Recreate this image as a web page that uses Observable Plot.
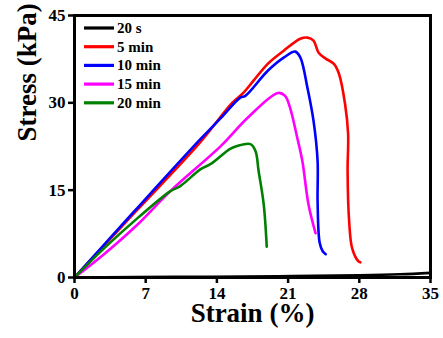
<!DOCTYPE html>
<html>
<head>
<meta charset="utf-8">
<script src="https://cdn.jsdelivr.net/npm/d3@7"></script>
<script src="https://cdn.jsdelivr.net/npm/@observablehq/plot@0.6"></script>
<style>
  html, body { margin: 0; padding: 0; background: #fff; }
</style>
</head>
<body>
<div id="chart"></div>
<script>
// ---- data (strain %, stress kPa) ----
const seriesNames = ["20 s", "5 min", "10 min", "15 min", "20 min"];
const seriesColors = ["#000000", "#ff0000", "#0000ff", "#ff00ff", "#008000"];

const s20s = [[0,0],[10,0.1],[20,0.22],[28,0.38],[32,0.55],[35,0.8]];
const s5min = [[0,0],[6,11.3],[12.2,22.9],[15.5,30.0],[16.6,31.7],[17.6,33.8],[19.0,36.7],[20.6,39.0],[22.2,41.0],[22.9,41.2],[23.5,40.7],[24.0,38.6],[24.7,37.6],[25.5,36.7],[26.0,35.0],[26.6,29.8],[26.9,24.7],[26.85,18.3],[27.0,9.7],[27.3,5.0],[27.9,2.8],[28.1,2.6]];
const s10min = [[0,0],[6,11.6],[12.4,23.8],[14.4,27.4],[16.3,30.9],[16.8,31.2],[19.0,35.5],[20.6,37.8],[21.7,38.8],[22.2,37.8],[22.9,32.6],[23.5,26.9],[23.9,20.0],[23.9,13.0],[24.1,6.0],[24.4,4.5],[24.7,4.0]];
const s15min = [[0,0],[2.9,4.0],[6.2,9.1],[9.4,14.8],[14.4,22.6],[17.0,27.4],[20.0,31.7],[20.7,31.2],[21.2,29.1],[21.9,24.0],[22.4,20.0],[23.0,12.6],[23.7,7.6]];
const s20min = [[0,0],[2.9,5.0],[6.2,10.2],[9.4,14.8],[10.4,15.7],[12.4,18.6],[13.4,19.5],[15.3,22.1],[16.0,22.6],[17.3,22.9],[17.8,21.7],[18.1,18.3],[18.6,12.6],[18.9,5.3]];

const xTicks = [0, 7, 14, 21, 28, 35];
const yTicks = [0, 15, 30, 45];
const xTitle = "Strain (%)";
const yTitle = "Stress (kPa)";

const allSeries = [s20s, s5min, s10min, s15min, s20min];
const rows = allSeries.flatMap((pts, i) =>
  pts.map(([x, y]) => ({x, y, name: seriesNames[i]})));

const font = "'Liberation Serif', 'Times New Roman', serif";

const plot = Plot.plot({
  width: 443,
  height: 338,
  marginLeft: 74,
  marginRight: 13,
  marginTop: 15,
  marginBottom: 61,
  style: {fontFamily: font, fontWeight: "bold", background: "#fff", color: "#000"},
  x: {domain: [0, 35]},
  y: {domain: [0, 45]},
  color: {domain: seriesNames, range: seriesColors},
  marks: [
    Plot.line(rows, {x: "x", y: "y", z: "name", stroke: "name", strokeWidth: 2.6, curve: "catmull-rom"}),
    Plot.frame({stroke: "#000", strokeWidth: 3}),
    Plot.axisX({ticks: xTicks, tickSize: 6, tickPadding: 3, fontSize: 17, fontWeight: "bold", strokeWidth: 2.5, label: null, tickFormat: d => String(d)}),
    Plot.axisY({ticks: yTicks, tickSize: 6, tickPadding: 3, fontSize: 17, fontWeight: "bold", strokeWidth: 2.5, label: null, tickFormat: d => String(d)}),
    Plot.text([xTitle], {frameAnchor: "bottom", text: d => d, dy: 44, fontSize: 27, fontWeight: "bold", fill: "#000"}),
    Plot.text([yTitle], {frameAnchor: "left", text: d => d, rotate: -90, dx: -47, dy: -5, fontSize: 27, fontWeight: "bold", fill: "#000"})
  ]
});

// legend inside the plot area (top-left)
const svg = d3.select(plot);
const lg = svg.append("g")
  .attr("font-family", font).attr("font-weight", "bold")
  .attr("font-size", 15).attr("text-anchor", "start");
seriesNames.forEach((name, i) => {
  const cy = 28 + i * 18.7;
  lg.append("line").attr("x1", 84).attr("x2", 114).attr("y1", cy).attr("y2", cy)
    .attr("stroke", seriesColors[i]).attr("stroke-width", 3.2);
  lg.append("text").attr("x", 117).attr("y", cy).attr("dy", "0.32em")
    .attr("fill", "#000").attr("text-anchor", "start").text(name);
});

document.getElementById("chart").appendChild(plot);
</script>
</body>
</html>
